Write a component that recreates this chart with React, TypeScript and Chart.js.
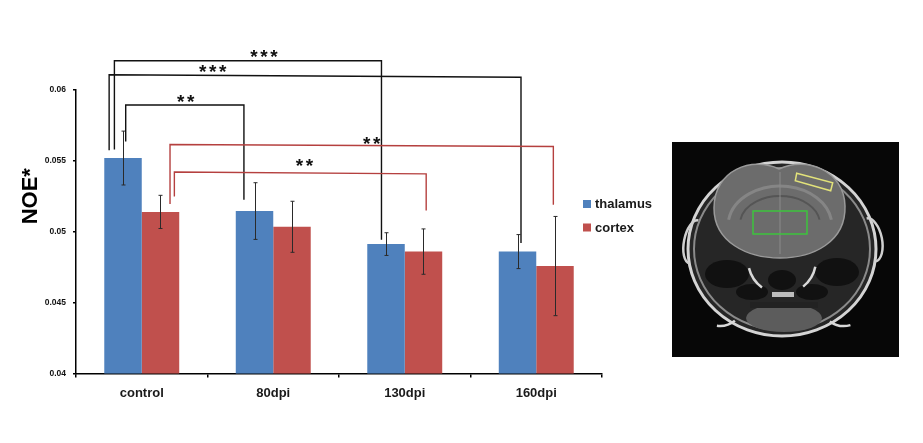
import { useEffect, useRef } from 'react';
import { Chart, registerables } from 'chart.js';

Chart.register(...registerables);

const CATEGORIES = ['control', '80dpi', '130dpi', '160dpi'];
const THALAMUS = [0.0552, 0.05146, 0.04913, 0.0486];
const CORTEX = [0.0514, 0.05035, 0.0486, 0.04758];
const THALAMUS_ERR = [0.0019, 0.002, 0.0008, 0.0012];
const CORTEX_ERR = [0.00117, 0.0018, 0.0016, 0.0035];
const Y_TICKS = [0.04, 0.045, 0.05, 0.055, 0.06];
const Y_TICK_LABELS = ['0.04', '0.045', '0.05', '0.055', '0.06'];
const SERIES_LABELS = ['thalamus', 'cortex'];
const SERIES_COLORS = ['#4F81BD', '#C0504D'];

// significance brackets: x in category units (0 = control), y in NOE units
const BRACKETS = [
  { x1: -0.208, x2: 1.823, top1: 0.06206, top2: 0.06206, end1: 0.0558, end2: 0.04944, label: '***', lx: 0.93, ly: 0.06265, color: '#111' },
  { x1: -0.248, x2: 2.884, top1: 0.06108, top2: 0.0609, end1: 0.05575, end2: 0.0492, label: '***', lx: 0.54, ly: 0.06161, color: '#111' },
  { x1: -0.122, x2: 0.777, top1: 0.05894, top2: 0.05894, end1: 0.05636, end2: 0.05225, label: '**', lx: 0.335, ly: 0.05949, color: '#111' },
  { x1: 0.215, x2: 3.13, top1: 0.05615, top2: 0.05601, end1: 0.05195, end2: 0.0519, label: '**', lx: 1.748, ly: 0.05653, color: '#b5403f' },
  { x1: 0.248, x2: 2.163, top1: 0.05422, top2: 0.05408, end1: 0.05249, end2: 0.0515, label: '**', lx: 1.237, ly: 0.055, color: '#b5403f' },
];

const FONT = '"Liberation Sans", Arial, sans-serif';

const annotations = {
  id: 'annotations',
  afterDatasetsDraw(chart: any) {
    const { ctx } = chart;
    const ys = chart.scales.y;
    const errs = [THALAMUS_ERR, CORTEX_ERR];
    ctx.save();
    ctx.strokeStyle = '#2a2a2a';
    ctx.lineWidth = 1;
    chart.data.datasets.forEach((ds: any, di: number) => {
      chart.getDatasetMeta(di).data.forEach((bar: any, i: number) => {
        const v = ds.data[i];
        const top = ys.getPixelForValue(v + errs[di][i]);
        const bot = ys.getPixelForValue(v - errs[di][i]);
        const x = Math.round(bar.x) + 0.5;
        ctx.beginPath();
        ctx.moveTo(x, top);
        ctx.lineTo(x, bot);
        ctx.moveTo(x - 2, top);
        ctx.lineTo(x + 2, top);
        ctx.moveTo(x - 2, bot);
        ctx.lineTo(x + 2, bot);
        ctx.stroke();
      });
    });
    ctx.restore();
  },
  afterDraw(chart: any) {
    const { ctx } = chart;
    const xs = chart.scales.x;
    const ys = chart.scales.y;
    ctx.save();

    BRACKETS.forEach((b) => {
      const x1 = xs.getPixelForValue(b.x1);
      const x2 = xs.getPixelForValue(b.x2);
      ctx.strokeStyle = b.color;
      ctx.lineWidth = 1.4;
      ctx.beginPath();
      ctx.moveTo(x1, ys.getPixelForValue(b.end1));
      ctx.lineTo(x1, ys.getPixelForValue(b.top1));
      ctx.lineTo(x2, ys.getPixelForValue(b.top2));
      ctx.lineTo(x2, ys.getPixelForValue(b.end2));
      ctx.stroke();

      ctx.fillStyle = '#111';
      ctx.font = `bold 19px ${FONT}`;
      ctx.textAlign = 'center';
      ctx.textBaseline = 'alphabetic';
      const cx = xs.getPixelForValue(b.lx);
      const cy = ys.getPixelForValue(b.ly) + 11;
      const n = b.label.length;
      for (let k = 0; k < n; k++) {
        ctx.fillText('*', cx + (k - (n - 1) / 2) * 10, cy);
      }
    });

    // y title
    ctx.save();
    ctx.translate(36.5, (chart.chartArea.top + chart.chartArea.bottom) / 2 - 35.5);
    ctx.rotate(-Math.PI / 2);
    ctx.fillStyle = '#000';
    ctx.font = `bold 22px ${FONT}`;
    ctx.textAlign = 'center';
    ctx.textBaseline = 'alphabetic';
    ctx.fillText('NOE*', 0, 0);
    ctx.restore();

    // legend
    ctx.font = `bold 13px ${FONT}`;
    ctx.textAlign = 'left';
    ctx.textBaseline = 'middle';
    chart.data.datasets.forEach((ds: any, di: number) => {
      const y = 204 + di * 23.5;
      ctx.fillStyle = ds.backgroundColor;
      ctx.fillRect(583, y - 4, 8, 8);
      ctx.fillStyle = '#1a1a1a';
      ctx.fillText(ds.label, 595, y + 0.5);
    });

    ctx.restore();
  },
};

function drawMri(ctx: CanvasRenderingContext2D) {
  ctx.fillStyle = '#070707';
  ctx.fillRect(0, 0, 227, 215);

  // head
  ctx.beginPath();
  ctx.ellipse(110, 107, 94, 87, 0, 0, Math.PI * 2);
  ctx.fillStyle = '#262626';
  ctx.fill();
  ctx.lineWidth = 3;
  ctx.strokeStyle = '#d4d4d4';
  ctx.stroke();
  ctx.lineWidth = 2;
  ctx.strokeStyle = '#8a8a8a';
  ctx.beginPath();
  ctx.ellipse(110, 107, 88, 81, 0, 0, Math.PI * 2);
  ctx.stroke();

  // ears
  ctx.strokeStyle = '#cfcfcf';
  ctx.lineWidth = 2.5;
  ctx.beginPath();
  ctx.ellipse(22, 100, 10, 22, 0.2, Math.PI * 0.5, Math.PI * 1.5);
  ctx.stroke();
  ctx.beginPath();
  ctx.ellipse(199, 98, 11, 22, -0.2, -Math.PI * 0.5, Math.PI * 0.5);
  ctx.stroke();

  // brain
  ctx.beginPath();
  ctx.moveTo(107, 27);
  ctx.bezierCurveTo(80, 14, 42, 28, 42, 66);
  ctx.bezierCurveTo(42, 100, 75, 116, 108, 116);
  ctx.bezierCurveTo(141, 116, 174, 100, 173, 64);
  ctx.bezierCurveTo(172, 28, 134, 14, 107, 27);
  ctx.fillStyle = '#6c6c6c';
  ctx.fill();
  ctx.strokeStyle = '#9a9a9a';
  ctx.lineWidth = 1.5;
  ctx.stroke();

  ctx.lineWidth = 3;
  ctx.strokeStyle = '#858585';
  ctx.beginPath();
  ctx.ellipse(108, 84, 52, 40, 0, Math.PI * 1.05, Math.PI * 1.95);
  ctx.stroke();
  ctx.lineWidth = 2;
  ctx.strokeStyle = '#555';
  ctx.beginPath();
  ctx.ellipse(108, 82, 40, 28, 0, Math.PI * 1.05, Math.PI * 1.95);
  ctx.stroke();
  ctx.strokeStyle = '#8a8a8a';
  ctx.lineWidth = 1;
  ctx.beginPath();
  ctx.moveTo(108, 30);
  ctx.lineTo(108, 112);
  ctx.stroke();

  // lower skull: dark cavities and bright streaks
  ctx.fillStyle = '#111';
  [[55, 132, 22, 14], [165, 130, 22, 14], [110, 138, 14, 10], [80, 150, 16, 8], [140, 150, 16, 8]].forEach(([x, y, rx, ry]) => {
    ctx.beginPath();
    ctx.ellipse(x, y, rx, ry, 0, 0, Math.PI * 2);
    ctx.fill();
  });
  ctx.strokeStyle = '#d8d8d8';
  ctx.lineWidth = 2.5;
  [[48, 160, 24, 0.9, 1.7], [172, 160, 24, 1.3, 2.2], [110, 118, 34, 0.2, 0.9], [110, 118, 34, 2.2, 2.9]].forEach(([x, y, r, a, b]) => {
    ctx.beginPath();
    ctx.arc(x, y, r, a, b);
    ctx.stroke();
  });
  ctx.fillStyle = '#bdbdbd';
  ctx.fillRect(100, 150, 22, 5);
  ctx.beginPath();
  ctx.ellipse(112, 176, 38, 14, 0, 0, Math.PI * 2);
  ctx.fillStyle = '#5c5c5c';
  ctx.fill();
  ctx.fillStyle = '#222';
  ctx.fillRect(78, 160, 68, 6);

  // regions of interest
  ctx.strokeStyle = '#3cc43c';
  ctx.lineWidth = 1.5;
  ctx.strokeRect(81, 69, 54, 23);
  ctx.strokeStyle = '#e2e27a';
  ctx.beginPath();
  ctx.moveTo(124.7, 31.3);
  ctx.lineTo(160.7, 40.7);
  ctx.lineTo(158.7, 48.7);
  ctx.lineTo(123.3, 38.7);
  ctx.closePath();
  ctx.stroke();
}

function MriPanel() {
  const ref = useRef<HTMLCanvasElement>(null);
  useEffect(() => {
    const ctx = ref.current?.getContext('2d');
    if (ctx) drawMri(ctx);
  }, []);
  return (
    <canvas
      ref={ref}
      width={227}
      height={215}
      style={{ position: 'absolute', left: 672, top: 142, width: 227, height: 215 }}
    />
  );
}

export default function App() {
  const canvasRef = useRef<HTMLCanvasElement>(null);
  const chartRef = useRef<Chart | null>(null);

  useEffect(() => {
    if (!canvasRef.current) return;
    chartRef.current?.destroy();

    chartRef.current = new Chart(canvasRef.current, {
      type: 'bar',
      data: {
        labels: CATEGORIES,
        datasets: [
          { label: SERIES_LABELS[0], data: THALAMUS, backgroundColor: SERIES_COLORS[0] },
          { label: SERIES_LABELS[1], data: CORTEX, backgroundColor: SERIES_COLORS[1] },
        ],
      },
      options: {
        animation: false,
        responsive: true,
        maintainAspectRatio: false,
        layout: { padding: { left: 0, top: 90, right: 321, bottom: 0 } },
        datasets: { bar: { categoryPercentage: 0.57, barPercentage: 1 } },
        plugins: {
          legend: { display: false },
          tooltip: { enabled: false },
        },
        scales: {
          x: {
            grid: { drawOnChartArea: false, tickLength: 4, color: '#000', lineWidth: 1.5 },
            border: { color: '#000', width: 1.5 },
            ticks: { font: { family: FONT, weight: 'bold', size: 13 }, color: '#1a1a1a', padding: 8 },
            afterFit: (scale: any) => {
              scale.height = 69.5;
            },
          },
          y: {
            min: 0.04,
            max: 0.06,
            afterBuildTicks: (scale: any) => {
              scale.ticks = Y_TICKS.map((value) => ({ value }));
            },
            grid: { drawOnChartArea: false, tickLength: 3, color: '#000', lineWidth: 1.5 },
            border: { color: '#000', width: 1.5 },
            ticks: {
              font: { family: FONT, weight: 'bold', size: 8.5 },
              color: '#111',
              padding: 7,
              callback: (value: any) => Y_TICK_LABELS[Y_TICKS.indexOf(value)] ?? '',
            },
            afterFit: (scale: any) => {
              scale.width = 76;
            },
          },
        },
      },
      plugins: [annotations],
    });

    return () => {
      chartRef.current?.destroy();
      chartRef.current = null;
    };
  }, []);

  return (
    <div style={{ position: 'fixed', left: 0, top: 0, width: 923, height: 443, background: '#fff' }}>
      <div style={{ position: 'absolute', left: 0, top: 0, width: 923, height: 443 }}>
        <canvas ref={canvasRef} />
      </div>
      <MriPanel />
    </div>
  );
}
